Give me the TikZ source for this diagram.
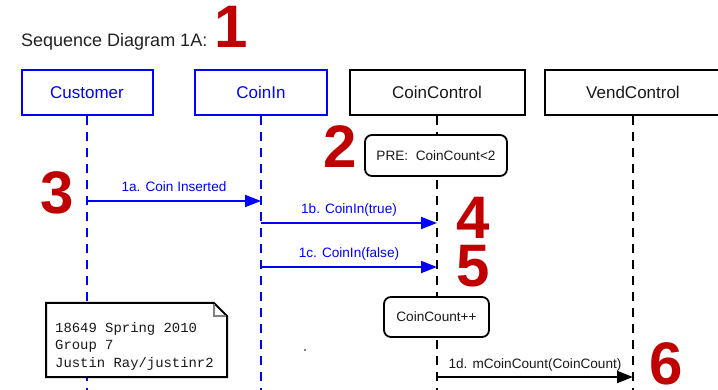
\documentclass[tikz,border=0pt]{standalone}
\usepackage{fontspec}
\setmainfont{Liberation Sans}
\setmonofont{Liberation Mono}
\usetikzlibrary{arrows.meta}
\definecolor{umlblue}{RGB}{0,0,255}
\definecolor{numred}{RGB}{192,0,0}
\definecolor{titlegray}{RGB}{34,34,34}
\begin{document}
\begin{tikzpicture}[x=1pt,y=-1pt,
 objbox/.style={draw, line width=2pt, minimum height=45pt, inner sep=0pt, font=\fontsize{17}{20}\selectfont, fill=white},
 blueobj/.style={objbox, draw=umlblue, text=umlblue},
 blackobj/.style={objbox, draw=black, text=black!90},
 lifeline/.style={line width=2pt, dash pattern=on 9pt off 7pt},
 msg/.style={line width=2pt, -{Triangle[length=16pt,width=12pt]}},
 msglbl/.style={font=\fontsize{13.6}{16}\selectfont, anchor=base, inner sep=0pt, yshift=9pt},
 roundbox/.style={draw, line width=1.8pt, rounded corners=7pt, fill=white, inner sep=0pt, font=\fontsize{13.6}{16}\selectfont, text=black!90},
 bignum/.style={text=numred, font=\fontsize{60}{60}\selectfont\bfseries, inner sep=0pt},
 notetext/.style={font=\fontsize{13.9}{17}\ttfamily, anchor=base west, inner sep=0pt, text=black!90}
]
\useasboundingbox (0,0) rectangle (718,390);

% title
\node[anchor=base west, inner sep=0pt, text=titlegray, font=\fontsize{18}{21}\selectfont] (title) at (21,47) {Sequence Diagram 1A:};

% objects
\node[blueobj, minimum width=131pt] (cust) at (87,92.5) {Customer};
\node[blueobj, minimum width=132pt] (coinin) at (261,92.5) {CoinIn};
\node[blackobj, minimum width=175pt] (cc) at (437,92.5) {CoinControl};
\node[blackobj, minimum width=176pt] (vc) at (633,92.5) {VendControl};

% lifeline ends
\coordinate (custbot) at (87,392);
\coordinate (coininbot) at (261,392);
\coordinate (ccbot) at (437,392);
\coordinate (vcbot) at (633,392);

\draw[lifeline, umlblue] (cust.south) -- (custbot);
\draw[lifeline, umlblue] (coinin.south) -- (coininbot);
\draw[lifeline, black] (cc.south) -- (ccbot);
\draw[lifeline, black] (vc.south) -- (vcbot);

% message points
\coordinate (m1as) at (87,201);
\coordinate (m1ae) at (261,201);
\coordinate (m1bs) at (261,223);
\coordinate (m1be) at (437,223);
\coordinate (m1cs) at (261,267);
\coordinate (m1ce) at (437,267);
\coordinate (m1ds) at (437,377);
\coordinate (m1de) at (633,377);

\draw[msg, umlblue] (m1as) -- node[msglbl, text=umlblue] (l1a) {1a. Coin Inserted} (m1ae);
\draw[msg, umlblue] (m1bs) -- node[msglbl, text=umlblue] (l1b) {1b. CoinIn(true)} (m1be);
\draw[msg, umlblue] (m1cs) -- node[msglbl, text=umlblue] (l1c) {1c. CoinIn(false)} (m1ce);
\draw[msg, black] (m1ds) -- node[msglbl, text=black!90] (l1d) {1d. mCoinCount(CoinCount)} (m1de);

% state boxes
\node[roundbox, minimum width=142pt, minimum height=41pt] (pre) at (436,155.5) {PRE:\ \ CoinCount<2};
\node[roundbox, minimum width=105pt, minimum height=40pt] (inc) at (436.5,317) {CoinCount++};

% note
\filldraw[fill=white, draw=black, line width=2pt] (46,303) -- (214,303) -- (227,316) -- (227,377) -- (46,377) -- cycle;
\draw[gray, line width=1.3pt] (214,304) -- (214,316) -- (226,316);
\node[notetext] (n1) at (55,332) {18649 Spring 2010};
\node[notetext] (n2) at (55,349.5) {Group 7};
\node[notetext] (n3) at (55,367) {Justin Ray/justinr2};

% stray dot
\fill[gray] (304,349) rectangle (306,351);

% red numbers
\node[bignum] (num1) at (231,27) {1};
\node[bignum] (num2) at (340,147) {2};
\node[bignum] (num3) at (57,193) {3};
\node[bignum] (num4) at (473,218) {4};
\node[bignum] (num5) at (473,266) {5};
\node[bignum] (num6) at (666,364) {6};
\end{tikzpicture}
\end{document}
